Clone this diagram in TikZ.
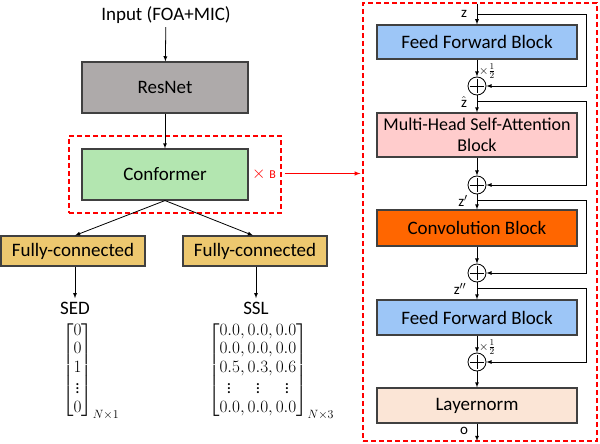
\documentclass[tikz,border=0pt]{standalone}
\usepackage{amsmath}
\usepackage{amssymb}
\usepackage{fontspec}
\setmainfont{Carlito}
\usetikzlibrary{arrows, positioning, calc}
\definecolor{edgegray}{HTML}{404040}
\definecolor{resgray}{HTML}{AEAAAA}
\definecolor{confgreen}{HTML}{B3E6B0}
\definecolor{fcgold}{HTML}{EDC86F}
\definecolor{ffblue}{HTML}{9DC6F7}
\definecolor{attpink}{HTML}{FFCCCC}
\definecolor{convorange}{HTML}{FF6600}
\definecolor{lnpeach}{HTML}{FBE5D6}

\begin{document}
\begin{tikzpicture}[x=1pt, y=-1pt, >=latex,
  blk/.style={draw=edgegray, line width=1.1pt, minimum width=200pt, minimum height=35pt,
    align=center, inner sep=2pt, font=\fontsize{19}{21}\selectfont},
  addop/.style={circle, draw=black, line width=0.8pt, minimum size=18pt, inner sep=0pt},
  flow/.style={->, line width=0.8pt},
  redbox/.style={draw=red, line width=1.2pt, dash pattern=on 5pt off 3pt},
  varlbl/.style={font=\fontsize{15}{17}\selectfont}]
\useasboundingbox (0,0) rectangle (600,444);

% Backbone
\node[font=\fontsize{19}{21}\selectfont] (input) at (166,15) {Input (FOA+MIC)};
\node[blk, fill=resgray, minimum width=166pt, minimum height=51pt] (resnet) at (165,87.5) {ResNet};
\node[blk, fill=confgreen, minimum width=166pt, minimum height=51pt] (conformer) at (165,174.5) {Conformer};
\node[redbox, minimum width=212pt, minimum height=77pt] (rep) at (175,174.5) {};
\node[text=red, font=\fontsize{17}{19}\selectfont] (times) at (264,174) {$\times$ {\fontsize{12}{14}\selectfont B}};
\draw[flow] (input) -- (resnet);
\draw[flow] (resnet) -- (conformer);

% Two heads
\node[blk, fill=fcgold, minimum width=144pt, minimum height=30pt] (fcsed) at (73,251) {Fully-connected};
\node[blk, fill=fcgold, minimum width=144pt, minimum height=30pt] (fcssl) at (255,251) {Fully-connected};
\draw[flow] (conformer.south) -- ($(fcsed.north)+(2,0)$);
\draw[flow] (conformer.south) -- ($(fcssl.north)-(2,0)$);

\node[font=\fontsize{19}{21}\selectfont] (sed) at (75,308) {SED};
\node[font=\fontsize{19}{21}\selectfont] (ssl) at (256,308) {SSL};
\draw[flow] (fcsed.south -| sed) -- (sed.north);
\draw[flow] (fcssl.south -| ssl) -- (ssl.north);

% Outputs
\node[anchor=west, inner sep=0pt, font=\fontsize{17}{18.5}\selectfont] (sedmat) at (62,371)
  {$\begin{bmatrix}0\\0\\1\\\vdots\\0\end{bmatrix}_{N\times 1}$};
\node[anchor=west, inner sep=0pt, font=\fontsize{17}{18.5}\selectfont] (sslmat) at (208,371)
  {$\begin{bmatrix}0.0, 0.0, 0.0\\0.0, 0.0, 0.0\\0.5, 0.3, 0.6\\\vdots\quad\ \ \vdots\quad\ \ \vdots\\0.0, 0.0, 0.0\end{bmatrix}_{N\times 3}$};

% Conformer block in detail
\node[redbox, minimum width=234pt, minimum height=438pt] (enc) at (480,222) {};
\draw[->, red, line width=1pt] ($(rep.east)+(3,-1)$) -- ($(rep.east -| enc.west)+(-2,-1)$);

\node[blk, fill=ffblue, minimum height=34pt] (ffa) at (477,42) {Feed Forward Block};
\node[addop] (adda) at (477,86) {};
\node[blk, fill=attpink, minimum height=44pt, font=\fontsize{18}{21}\selectfont] (mhsa) at (477,135)
  {Multi-Head Self-Attention\\Block};
\node[addop] (addb) at (477,185) {};
\node[blk, fill=convorange, minimum height=36pt] (conv) at (477,228) {Convolution Block};
\node[addop] (addc) at (477,273) {};
\node[blk, fill=ffblue] (ffb) at (477,317.5) {Feed Forward Block};
\node[addop] (addd) at (477,362) {};
\node[blk, fill=lnpeach] (ln) at (477,405.5) {Layernorm};

\foreach \a in {adda,addb,addc,addd} {
  \draw[line width=0.8pt] ($(\a.center)+(-7,0)$) -- ($(\a.center)+(7,0)$)
    ($(\a.center)+(0,-7)$) -- ($(\a.center)+(0,7)$);
}

% Main path
\coordinate (zin) at (477,4);
\coordinate (zout) at (477,441);
\draw[flow] (zin) -- (ffa);
\draw[flow] (ffa) -- (adda);
\draw[flow] (adda) -- (mhsa);
\draw[flow] (mhsa) -- (addb);
\draw[flow] (addb) -- (conv);
\draw[flow] (conv) -- (addc);
\draw[flow] (addc) -- (ffb);
\draw[flow] (ffb) -- (addd);
\draw[flow] (addd) -- (ln);
\draw[flow] (ln) -- (zout);

% Residual paths
\coordinate (sa) at (477,14);
\coordinate (sb) at (477,101);
\coordinate (sc) at (477,200);
\coordinate (sd) at (477,288);
\draw[flow] (sa) -- (586,14) |- (adda.east);
\draw[flow] (sb) -- (586,101) |- (addb.east);
\draw[flow] (sc) -- (586,200) |- (addc.east);
\draw[flow] (sd) -- (586,288) |- (addd.east);

% Labels
\node[varlbl] (lz) at (464,14) {$\mathrm{z}$};
\node[varlbl] (lzh) at (464,102) {$\hat{\mathrm{z}}$};
\node[varlbl] (lzp) at (463,201) {$\mathrm{z}'$};
\node[varlbl] (lzpp) at (460,289) {$\mathrm{z}''$};
\node[varlbl] (lo) at (464,431) {$\mathrm{o}$};
\node[anchor=west, inner sep=1pt, font=\fontsize{13}{15}\selectfont] (halfa) at (478,71) {$\times\tfrac{1}{2}$};
\node[anchor=west, inner sep=1pt, font=\fontsize{13}{15}\selectfont] (halfb) at (478,347) {$\times\tfrac{1}{2}$};
\end{tikzpicture}
\end{document}
